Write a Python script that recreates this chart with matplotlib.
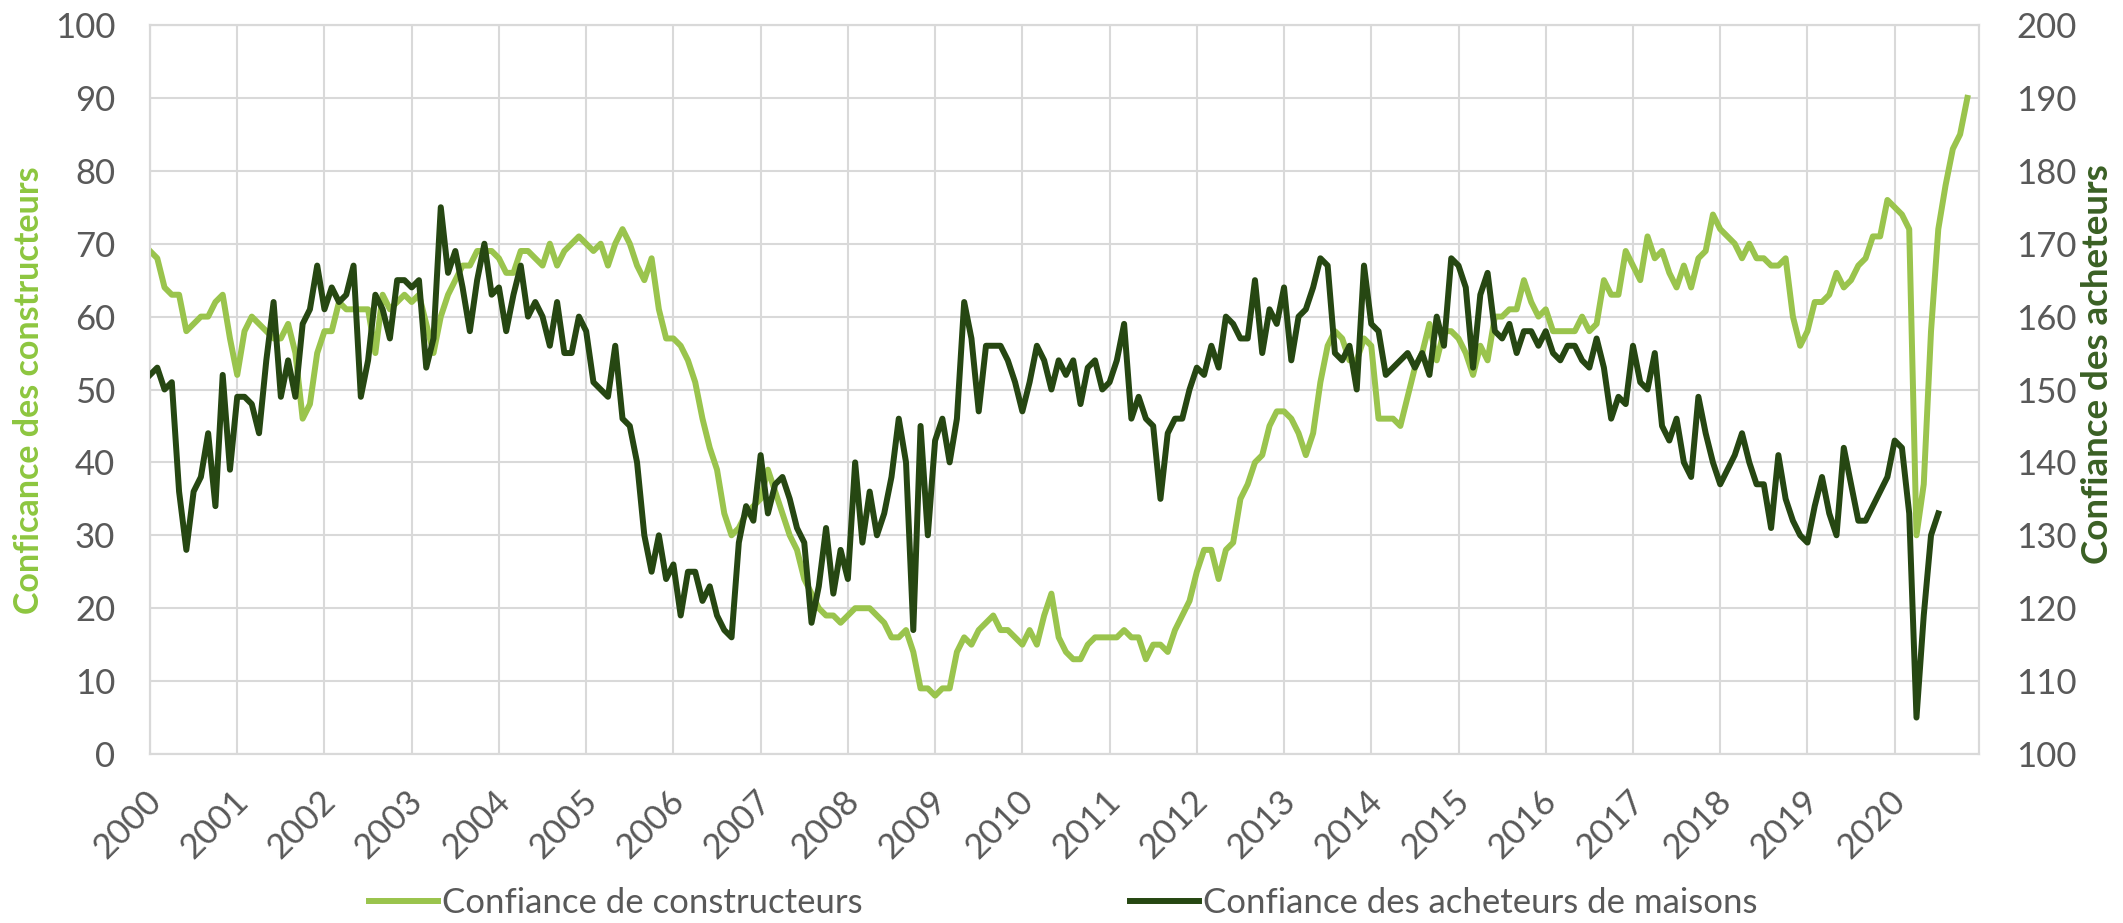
import matplotlib
matplotlib.use("Agg")
import matplotlib.pyplot as plt
from matplotlib.transforms import ScaledTranslation

# ---------------- data (monthly, Jan 2000 onward) ----------------
years = [str(y) for y in range(2000, 2021)]

builders = [
    69, 68, 64, 63, 63, 58, 59, 60, 60, 62, 63, 57,   # 2000
    52, 58, 60, 59, 58, 57, 57, 59, 55, 46, 48, 55,   # 2001
    58, 58, 62, 61, 61, 61, 61, 55, 63, 61, 62, 63,   # 2002
    62, 63, 59, 55, 60, 63, 65, 67, 67, 69, 69, 69,   # 2003
    68, 66, 66, 69, 69, 68, 67, 70, 67, 69, 70, 71,   # 2004
    70, 69, 70, 67, 70, 72, 70, 67, 65, 68, 61, 57,   # 2005
    57, 56, 54, 51, 46, 42, 39, 33, 30, 31, 33, 34,   # 2006
    35, 39, 36, 33, 30, 28, 24, 22, 20, 19, 19, 18,   # 2007
    19, 20, 20, 20, 19, 18, 16, 16, 17, 14, 9, 9,     # 2008
    8, 9, 9, 14, 16, 15, 17, 18, 19, 17, 17, 16,      # 2009
    15, 17, 15, 19, 22, 16, 14, 13, 13, 15, 16, 16,   # 2010
    16, 16, 17, 16, 16, 13, 15, 15, 14, 17, 19, 21,   # 2011
    25, 28, 28, 24, 28, 29, 35, 37, 40, 41, 45, 47,   # 2012
    47, 46, 44, 41, 44, 51, 56, 58, 57, 54, 54, 57,   # 2013
    56, 46, 46, 46, 45, 49, 53, 55, 59, 54, 58, 58,   # 2014
    57, 55, 52, 56, 54, 60, 60, 61, 61, 65, 62, 60,   # 2015
    61, 58, 58, 58, 58, 60, 58, 59, 65, 63, 63, 69,   # 2016
    67, 65, 71, 68, 69, 66, 64, 67, 64, 68, 69, 74,   # 2017
    72, 71, 70, 68, 70, 68, 68, 67, 67, 68, 60, 56,   # 2018
    58, 62, 62, 63, 66, 64, 65, 67, 68, 71, 71, 76,   # 2019
    75, 74, 72, 30, 37, 58, 72, 78, 83, 85, 90,       # 2020
]

buyers = [
    152, 153, 150, 151, 136, 128, 136, 138, 144, 134, 152, 139,  # 2000
    149, 149, 148, 144, 154, 162, 149, 154, 149, 159, 161, 167,  # 2001
    161, 164, 162, 163, 167, 149, 154, 163, 161, 157, 165, 165,  # 2002
    164, 165, 153, 157, 175, 166, 169, 164, 158, 165, 170, 163,  # 2003
    164, 158, 163, 167, 160, 162, 160, 156, 162, 155, 155, 160,  # 2004
    158, 151, 150, 149, 156, 146, 145, 140, 130, 125, 130, 124,  # 2005
    126, 119, 125, 125, 121, 123, 119, 117, 116, 129, 134, 132,  # 2006
    141, 133, 137, 138, 135, 131, 129, 118, 123, 131, 122, 128,  # 2007
    124, 140, 129, 136, 130, 133, 138, 146, 140, 117, 145, 130,  # 2008
    143, 146, 140, 146, 162, 157, 147, 156, 156, 156, 154, 151,  # 2009
    147, 151, 156, 154, 150, 154, 152, 154, 148, 153, 154, 150,  # 2010
    151, 154, 159, 146, 149, 146, 145, 135, 144, 146, 146, 150,  # 2011
    153, 152, 156, 153, 160, 159, 157, 157, 165, 155, 161, 159,  # 2012
    164, 154, 160, 161, 164, 168, 167, 155, 154, 156, 150, 167,  # 2013
    159, 158, 152, 153, 154, 155, 153, 155, 152, 160, 156, 168,  # 2014
    167, 164, 153, 163, 166, 158, 157, 159, 155, 158, 158, 156,  # 2015
    158, 155, 154, 156, 156, 154, 153, 157, 153, 146, 149, 148,  # 2016
    156, 151, 150, 155, 145, 143, 146, 140, 138, 149, 144, 140,  # 2017
    137, 139, 141, 144, 140, 137, 137, 131, 141, 135, 132, 130,  # 2018
    129, 134, 138, 133, 130, 142, 137, 132, 132, 134, 136, 138,  # 2019
    143, 142, 133, 105, 119, 130, 133,                           # 2020
]

label_builders = "Confiance de constructeurs"
label_buyers = "Confiance des acheteurs de maisons"
title_left = "Conficance des constructeurs"
title_right = "Confiance des acheteurs"

# ---------------- style ----------------
W, H = 2123, 923
FONT = "Lato"
GREEN = "#9AC44D"
GREEN_T = "#8DC63F"
DARK = "#264712"
DARK_T = "#3A6024"
GRID = "#D9D9D9"
TXT = "#595959"

plt.rcParams["font.family"] = [FONT, "DejaVu Sans"]

fig = plt.figure(figsize=(W / 100, H / 100), dpi=100)
L, R, T, B = 150, 1979, 25, 754
ax = fig.add_axes([L / W, 1 - B / H, (R - L) / W, (B - T) / H])
ax2 = ax.twinx()

x_b = list(range(len(builders)))
x_a = list(range(len(buyers)))

l1, = ax.plot(x_b, builders, color=GREEN, lw=4.3, label=label_builders,
              solid_joinstyle="round", zorder=3)
l2, = ax2.plot(x_a, buyers, color=DARK, lw=4.3, label=label_buyers,
               solid_joinstyle="round", zorder=3)

ax.set_xlim(0, 251.6)
ax.set_ylim(0, 100)
ax2.set_ylim(100, 200)
ax.set_yticks(range(0, 101, 10))
ax2.set_yticks(range(100, 201, 10))
ax.set_xticks(range(0, 241, 12))
ax.set_xticklabels(years, rotation=45, ha="right", va="center",
                   rotation_mode="anchor")

ax.grid(True, color=GRID, lw=1.5, zorder=0)
ax.set_axisbelow(True)
for a in (ax, ax2):
    for s in a.spines.values():
        s.set_color(GRID)
        s.set_linewidth(1.5)
    a.tick_params(length=0, labelsize=25, labelcolor=TXT)

ax.tick_params(axis="y", pad=25)
ax2.tick_params(axis="y", pad=27)
ax.tick_params(axis="x", pad=30)
off = ScaledTranslation(6 / 100, 0, fig.dpi_scale_trans)
for lab in ax.get_xticklabels():
    lab.set_transform(lab.get_transform() + off)

# axis titles, sized so that their length matches the original
renderer = fig.canvas.get_renderer()


def axis_title(text, xc, yc, length, color):
    t = fig.text(xc / W, 1 - yc / H, text, rotation=90, ha="center",
                 va="center", fontsize=22, fontweight="bold", color=color)
    h = t.get_window_extent(renderer).height
    t.set_fontsize(22 * length / h)
    return t


axis_title(title_left, 29, 390, 446, GREEN_T)
axis_title(title_right, 2097, 364, 400, DARK_T)

fig.legend([l1, l2], [label_builders, label_buyers], loc="center",
           bbox_to_anchor=(1063 / W, 1 - 903 / H), ncol=2, frameon=False,
           fontsize=25, labelcolor=TXT, handlelength=2.0, handletextpad=0.1,
           columnspacing=7.7, borderpad=0, borderaxespad=0)

fig.savefig("out.png", dpi=100, facecolor="white")
